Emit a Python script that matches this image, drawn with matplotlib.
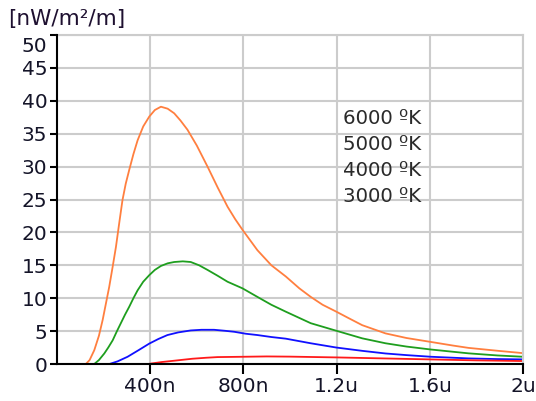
import matplotlib
matplotlib.use("Agg")
import matplotlib.pyplot as plt
from matplotlib.transforms import ScaledTranslation

# values (x in nm, y in nW/m2/m)
wl_6000 = [124, 140, 160, 180, 196, 210, 224, 239, 253, 267, 281, 295, 310, 328, 346,
           370, 396, 420, 446, 475, 503, 530, 560, 600, 646, 690, 732, 765, 796, 860,
           920, 982, 1040, 1089, 1140, 1199, 1250, 1310, 1410, 1500, 1605, 1700, 1766,
           1894, 2000]
val_6000 = [0, 0.6, 2.1, 4.3, 6.7, 9.2, 11.7, 14.8, 17.8, 21.4, 24.9, 27.4, 29.5, 31.9,
            34.0, 36.1, 37.6, 38.6, 39.1, 38.8, 38.1, 37.0, 35.6, 33.2, 30.0, 26.8, 23.9,
            22.0, 20.4, 17.3, 15.0, 13.3, 11.5, 10.2, 9.0, 7.95, 7.0, 5.9, 4.65, 3.95,
            3.35, 2.8, 2.45, 2.0, 1.65]

wl_5000 = [160, 180, 203, 220, 239, 256, 274, 292, 310, 328, 346, 370, 396, 420, 446,
           475, 503, 540, 574, 610, 646, 690, 732, 796, 860, 920, 982, 1089, 1199, 1310,
           1410, 1500, 1605, 1766, 1890, 2000]
val_5000 = [0, 0.6, 1.6, 2.5, 3.6, 4.9, 6.2, 7.5, 8.7, 10.0, 11.2, 12.5, 13.5, 14.3,
            14.9, 15.3, 15.5, 15.6, 15.5, 15.0, 14.3, 13.4, 12.5, 11.5, 10.2, 9.0, 7.95,
            6.2, 5.05, 3.9, 3.15, 2.65, 2.2, 1.62, 1.3, 1.1]

wl_4000 = [225, 260, 303, 350, 396, 435, 474, 520, 574, 620, 674, 720, 760, 810, 860,
           920, 982, 1089, 1199, 1310, 1410, 1500, 1605, 1766, 1890, 2000]
val_4000 = [0, 0.4, 1.1, 2.1, 3.1, 3.8, 4.4, 4.8, 5.1, 5.2, 5.2, 5.05, 4.9, 4.6, 4.4,
            4.1, 3.85, 3.15, 2.5, 2.0, 1.6, 1.35, 1.1, 0.85, 0.75, 0.7]

wl_3000 = [400, 450, 503, 581, 640, 689, 800, 900, 1000, 1200, 1400, 1600, 1800, 2000]
val_3000 = [0.05, 0.3, 0.5, 0.8, 0.95, 1.05, 1.1, 1.15, 1.12, 1.0, 0.85, 0.7, 0.55, 0.45]

labels = ["6000 ºK", "5000 ºK", "4000 ºK", "3000 ºK"]
x_ticks = [400, 800, 1200, 1600, 2000]
x_tick_labels = ["400n", "800n", "1.2u", "1.6u", "2u"]
y_ticks = list(range(0, 51, 5))

fig = plt.figure(figsize=(5.36, 4.01), dpi=100)
ax = fig.add_axes([57 / 536, 37 / 401, 466 / 536, 329 / 401])

ax.plot(wl_6000, val_6000, color="#FF7F3F", lw=1.3)
ax.plot(wl_5000, val_5000, color="#1E9E1E", lw=1.3)
ax.plot(wl_4000, val_4000, color="#1010FF", lw=1.3)
ax.plot(wl_3000, val_3000, color="#FF1A1A", lw=1.3)

ax.set_xlim(0, 2000)
ax.set_ylim(0, 50)
ax.set_xticks(x_ticks)
ax.set_xticklabels(x_tick_labels)
ax.set_yticks(y_ticks)
ax.grid(True, color="#CCCCCC", lw=1.5)
ax.set_axisbelow(True)

for side in ["top", "right"]:
    ax.spines[side].set_color("#CCCCCC")
    ax.spines[side].set_linewidth(1.5)
for side in ["left", "bottom"]:
    ax.spines[side].set_color("black")
    ax.spines[side].set_linewidth(1.5)
    ax.spines[side].set_zorder(5)

ax.tick_params(axis="y", length=5, width=1.5, pad=2, labelsize=14.5, labelcolor="#141428")
ax.tick_params(axis="x", length=7, width=1.5, pad=2, labelsize=14.5, labelcolor="#141428")

# top label "50" sits a bit lower in the reference
top_lbl = ax.get_yticklabels()[-1]
top_lbl.set_transform(top_lbl.get_transform() + ScaledTranslation(0, -0.1, fig.dpi_scale_trans))

fig.text(8 / 536, 1 - 19 / 401, "[nW/m²/m]", fontsize=15.5, color="#1E1030",
         ha="left", va="center")

for i, lab in enumerate(labels):
    fig.text(343 / 536, 1 - (118 + 26 * i) / 401, lab, fontsize=14.2, color="#2A2A2A",
             ha="left", va="center")

fig.savefig("out.png", dpi=100)
